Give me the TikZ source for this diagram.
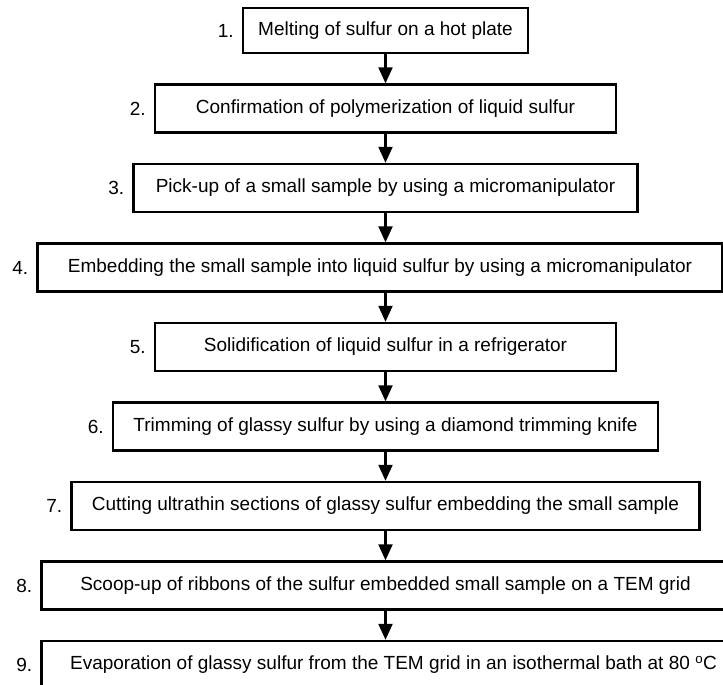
\documentclass[tikz,border=0pt]{standalone}
\usepackage{fontspec}
\setmainfont{Liberation Sans}
\usepackage{tikz}
\usetikzlibrary{arrows.meta,positioning}
\tikzset{
  stepbox/.style={
    draw, line width=2.4pt, fill=white, minimum height=48pt, inner sep=0pt,
    font=\fontsize{19}{22}\selectfont, align=center
  },
  stepnum/.style={inner sep=0pt, font=\fontsize{19}{22}\selectfont},
  flowarrow/.style={-{Triangle[length=16pt, width=14pt]}, line width=2.2pt}
}

\begin{document}
\begin{tikzpicture}[node distance=29.1pt]
  \useasboundingbox (0,0) rectangle (723pt,-685pt);
  \clip (0,0) rectangle (723pt,-685pt);
  \node[stepbox, minimum width=285pt, minimum height=45pt] (melt) at (385.5pt,-30.5pt) {Melting of sulfur on a hot plate};
  \node[stepbox, minimum width=461pt, below=of melt] (poly) {Confirmation of polymerization of liquid sulfur};
  \node[stepbox, minimum width=504pt, below=of poly] (pick) {Pick-up of a small sample by using a micromanipulator};
  \node[stepbox, minimum width=685pt, below=of pick, xshift=-5.5pt] (embed) {Embedding the small sample into liquid sulfur by using a micromanipulator};
  \node[stepbox, minimum width=461pt, below=of embed, xshift=5.5pt] (solid) {Solidification of liquid sulfur in a refrigerator};
  \node[stepbox, minimum width=545pt, below=of solid] (trim) {Trimming of glassy sulfur by using a diamond trimming knife};
  \node[stepbox, minimum width=628pt, below=of trim] (cut) {Cutting ultrathin sections of glassy sulfur embedding the small sample};
  \node[stepbox, minimum width=688pt, below=of cut] (scoop) {Scoop-up of ribbons of the sulfur embedded small sample on a TEM grid};
  \node[stepbox, minimum width=704pt, below=of scoop, xshift=8pt] (evap) {Evaporation of glassy sulfur from the TEM grid in an isothermal bath at 80 \textsuperscript{o}C};

  \node[stepnum, left=8pt of melt] (n1) {1.};
  \node[stepnum, left=8pt of poly] (n2) {2.};
  \node[stepnum, left=8pt of pick] (n3) {3.};
  \node[stepnum, left=8pt of embed] (n4) {4.};
  \node[stepnum, left=8pt of solid] (n5) {5.};
  \node[stepnum, left=8pt of trim] (n6) {6.};
  \node[stepnum, left=8pt of cut] (n7) {7.};
  \node[stepnum, left=8pt of scoop] (n8) {8.};
  \node[stepnum, left=8pt of evap] (n9) {9.};

  \draw[flowarrow] (melt) -- (poly); \draw[flowarrow] (poly) -- (pick);
  \draw[flowarrow] (pick.south) -- (pick.south |- embed.north);
  \draw[flowarrow] (solid.north |- embed.south) -- (solid.north);
  \draw[flowarrow] (solid) -- (trim); \draw[flowarrow] (trim) -- (cut);
  \draw[flowarrow] (cut) -- (scoop);
  \draw[flowarrow] (scoop.south) -- (scoop.south |- evap.north);
\end{tikzpicture}
\end{document}
